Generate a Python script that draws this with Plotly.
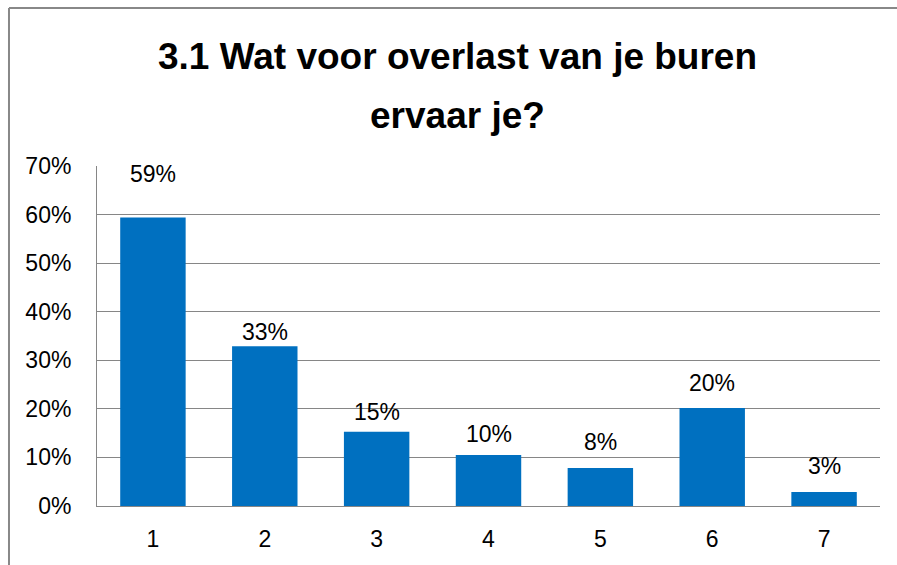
import plotly.graph_objects as go

categories = ["1", "2", "3", "4", "5", "6", "7"]
values = [0.594, 0.329, 0.153, 0.105, 0.078, 0.202, 0.029]
labels = ["59%", "33%", "15%", "10%", "8%", "20%", "3%"]
tick_vals = [0, 0.1, 0.2, 0.3, 0.4, 0.5, 0.6, 0.7]
tick_text = ["0%", "10%", "20%", "30%", "40%", "50%", "60%", "70%"]
title_lines = ["3.1 Wat voor overlast van je buren", "ervaar je?"]

# style: pixel offsets of each value label above its bar
label_offsets = [43, 14, 20, 21, 26, 25, 26]

FONT = "Liberation Sans, Arial, sans-serif"
GRID = "#868686"

fig = go.Figure(
    go.Bar(
        x=categories,
        y=values,
        marker=dict(color="#0070C0", line=dict(width=0)),
        hoverinfo="skip",
    )
)

annotations = []
for i, (v, t, off) in enumerate(zip(values, labels, label_offsets)):
    annotations.append(dict(
        x=i, y=v, xref="x", yref="y", text=t, showarrow=False,
        yanchor="middle", xanchor="center", yshift=off,
        font=dict(family=FONT, size=23, color="#000000"),
    ))

annotations.append(dict(
    x=0.461, y=1.3235, xref="paper", yref="paper", text=title_lines[0],
    showarrow=False, xanchor="center", yanchor="middle",
    font=dict(family=FONT, size=37, color="#000000", weight="bold"),
))
annotations.append(dict(
    x=0.461, y=1.148, xref="paper", yref="paper", text=title_lines[1],
    showarrow=False, xanchor="center", yanchor="middle",
    font=dict(family=FONT, size=37, color="#000000", weight="bold"),
))

border = dict(color="#888888", width=2)
fig.update_layout(
    width=897,
    height=565,
    margin=dict(l=97, r=17, t=166, b=59, autoexpand=False),
    paper_bgcolor="white",
    plot_bgcolor="white",
    bargap=0.415,
    showlegend=False,
    font=dict(family=FONT, size=23, color="#000000"),
    annotations=annotations,
    shapes=[
        dict(type="line", xref="paper", yref="paper",
             x0=-0.1124, x1=1.03, y0=1.4647, y1=1.4647, line=border, layer="above"),
        dict(type="line", xref="paper", yref="paper",
             x0=-0.1124, x1=-0.1124, y0=1.4647, y1=-0.18, line=border, layer="above"),
    ],
)

fig.update_xaxes(
    type="category",
    automargin=False,
    showgrid=False,
    showline=True,
    linecolor=GRID,
    linewidth=1,
    ticks="",
    ticklabelstandoff=12,
    tickfont=dict(family=FONT, size=23, color="#000000"),
)
fig.update_yaxes(
    range=[0, 0.7],
    automargin=False,
    tickvals=tick_vals,
    ticktext=tick_text,
    showgrid=True,
    gridcolor=GRID,
    gridwidth=1,
    showline=True,
    linecolor=GRID,
    linewidth=1,
    zeroline=False,
    ticks="",
    ticklabelstandoff=20,
    tickfont=dict(family=FONT, size=23, color="#000000"),
)

fig.write_html(
    "out.html",
    config={"displayModeBar": False},
    post_script="document.body.style.margin='0';document.body.style.overflow='hidden';",
)
